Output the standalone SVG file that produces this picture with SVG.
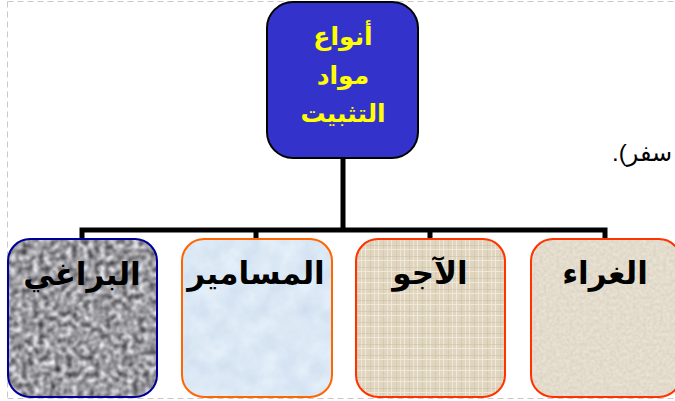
<svg xmlns="http://www.w3.org/2000/svg" width="675" height="401" viewBox="0 0 675 401">
  <style>
    .frame { fill: none; stroke: #C8C8C8; stroke-width: 1; stroke-dasharray: 6 4; }
    .conn { fill: none; stroke: #000000; stroke-width: 5; stroke-linecap: butt; stroke-linejoin: miter; }
    .title { font-family: "Liberation Sans", "DejaVu Sans", sans-serif; font-weight: bold; font-size: 25px; fill: #FFFF00; text-anchor: middle; }
    .label { font-family: "Liberation Sans", "DejaVu Sans", sans-serif; font-weight: bold; font-size: 31px; fill: #000000; text-anchor: middle; }
    .body { font-family: "Liberation Sans", "DejaVu Sans", sans-serif; font-size: 24px; fill: #000000; }
    .edge { fill: none; stroke-width: 2; }
  </style>
  <defs>
    <filter id="granite" x="0" y="0" width="100%" height="100%" color-interpolation-filters="sRGB">
      <feTurbulence type="fractalNoise" baseFrequency="0.18" numOctaves="3" seed="4" result="n"/>
      <feGaussianBlur in="n" stdDeviation="0.8" result="nb"/>
      <feColorMatrix in="nb" type="matrix" values="1.25 0 0 0 -0.02  1.25 0 0 0 -0.02  1.25 0 0 0 0.0  0 0 0 0 1" result="g"/>
      <feComposite in="g" in2="SourceGraphic" operator="in"/>
    </filter>
    <filter id="paperBlue" x="0" y="0" width="100%" height="100%" color-interpolation-filters="sRGB">
      <feTurbulence type="fractalNoise" baseFrequency="0.05" numOctaves="3" seed="7" result="n"/>
      <feColorMatrix in="n" type="matrix" values="0.12 0 0 0 0.80  0.10 0 0 0 0.86  0.06 0 0 0 0.93  0 0 0 0 1" result="g"/>
      <feComposite in="g" in2="SourceGraphic" operator="in"/>
    </filter>
    <filter id="paperBeige" x="0" y="0" width="100%" height="100%" color-interpolation-filters="sRGB">
      <feTurbulence type="fractalNoise" baseFrequency="0.3" numOctaves="2" seed="11" result="n"/>
      <feColorMatrix in="n" type="matrix" values="0.10 0 0 0 0.84  0.10 0 0 0 0.81  0.10 0 0 0 0.75  0 0 0 0 1" result="g"/>
      <feComposite in="g" in2="SourceGraphic" operator="in"/>
    </filter>
    <pattern id="linen" x="0" y="0" width="13" height="11" patternUnits="userSpaceOnUse">
      <rect width="13" height="11" fill="#E0D5BF"/>
      <rect x="1" y="0" width="1" height="11" fill="#F0EADD"/>
      <rect x="6" y="0" width="1" height="11" fill="#CDBFA4" opacity="0.5"/>
      <rect x="10" y="0" width="1" height="11" fill="#EDE6D6"/>
      <rect x="0" y="3" width="13" height="1" fill="#C9BBA0" opacity="0.45"/>
      <rect x="0" y="7" width="13" height="1" fill="#F0EADD" opacity="0.9"/>
    </pattern>
  </defs>

  <g id="frame">
    <line class="frame" x1="7.5" y1="1.5" x2="675" y2="1.5"/>
    <line class="frame" x1="7.5" y1="1.5" x2="7.5" y2="398"/>
    <line class="frame" x1="7.5" y1="398.5" x2="675" y2="398.5"/>
  </g>

  <text class="body" x="612" y="161" direction="rtl" text-anchor="end">سفر).</text>

  <g id="connectors">
    <path class="conn" d="M343 158 V230"/>
    <path class="conn" d="M82 240 V230 H605 V240"/>
    <path class="conn" d="M256 230 V240"/>
    <path class="conn" d="M430 230 V240"/>
  </g>

  <g id="node-root">
    <rect x="267" y="2" width="151" height="156" rx="26" ry="26" fill="#3333CC" stroke="#000000" stroke-width="2"/>
    <text class="title" x="343" y="45">أنواع</text>
    <text class="title" x="343" y="84">مواد</text>
    <text class="title" x="343" y="122">التثبيت</text>
  </g>

  <g id="node-screws">
    <rect x="8" y="239" width="149" height="158" rx="22" ry="22" fill="#999999" filter="url(#granite)"/>
    <rect class="edge" x="8" y="239" width="149" height="158" rx="22" ry="22" stroke="#000099"/>
    <text class="label" x="82" y="285">البراغي</text>
  </g>

  <g id="node-nails">
    <rect x="182" y="239" width="150" height="158" rx="22" ry="22" fill="#DCE9F6" filter="url(#paperBlue)"/>
    <rect class="edge" x="182" y="239" width="150" height="158" rx="22" ry="22" stroke="#FF6600"/>
    <text class="label" x="256" y="284">المسامير</text>
  </g>

  <g id="node-bricks">
    <rect x="356" y="239" width="149" height="158" rx="22" ry="22" fill="url(#linen)"/>
    <rect class="edge" x="356" y="239" width="149" height="158" rx="22" ry="22" stroke="#FF3300"/>
    <text class="label" x="430" y="284">الآجو</text>
  </g>

  <g id="node-glue">
    <rect x="531" y="239" width="150" height="158" rx="22" ry="22" fill="#E3DBCC" filter="url(#paperBeige)"/>
    <rect class="edge" x="531" y="239" width="150" height="158" rx="22" ry="22" stroke="#FF3300"/>
    <text class="label" x="605" y="284">الغراء</text>
  </g>
</svg>
